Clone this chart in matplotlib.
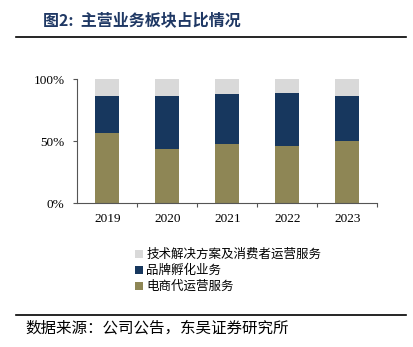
import matplotlib.pyplot as plt
import numpy as np

years = ["2019", "2020", "2021", "2022", "2023"]
ecommerce = [0.57, 0.44, 0.478, 0.462, 0.50]
brand_incubation = [0.295, 0.425, 0.402, 0.425, 0.37]
tech_service = [0.135, 0.135, 0.12, 0.113, 0.13]

series_names = ["电商代运营服务", "品牌孵化业务", "技术解决方案及消费者运营服务"]
colors = ["#8E8655", "#17375E", "#D9D9D9"]

CJK = ["Noto Sans CJK SC", "DejaVu Sans"]
SERIF = "Liberation Serif"


def main():
    fig = plt.figure(figsize=(4.13, 3.47), dpi=100)
    ax = fig.add_axes([0.187, 0.414, 0.7265, 0.357])

    x = np.arange(len(years))
    bottom = np.zeros(len(years))
    handles = []
    for vals, name, c in zip([ecommerce, brand_incubation, tech_service], series_names, colors):
        h = ax.bar(x, vals, width=0.4, bottom=bottom, color=c, label=name)
        bottom += np.array(vals)
        handles.append(h)

    ax.set_xlim(-0.5, len(years) - 0.5)
    ax.set_ylim(0, 1)
    ax.set_yticks([0, 0.5, 1.0])
    ax.set_yticklabels(["0%", "50%", "100%"], fontfamily=SERIF, fontsize=9.5)
    ax.set_xticks(x)
    ax.set_xticklabels(years, fontfamily=SERIF, fontsize=9.5)
    ax.tick_params(axis="x", which="major", length=0, pad=7)
    # tick marks sit between the categories
    ax.set_xticks(np.arange(0.5, len(years), 1.0), minor=True)
    ax.tick_params(axis="x", which="minor", length=3, color="#555555", width=0.8)
    ax.tick_params(axis="y", length=3, color="#555555", width=0.8, pad=6)
    for side in ["top", "right"]:
        ax.spines[side].set_visible(False)
    for side in ["left", "bottom"]:
        ax.spines[side].set_color("#555555")
        ax.spines[side].set_linewidth(0.8)

    fig.legend(handles[::-1], series_names[::-1], loc="upper left",
               bbox_to_anchor=(0.315, 1 - 243 / 347), frameon=False,
               prop={"family": CJK, "size": 9}, handlelength=0.6,
               handleheight=0.6, handletextpad=0.3, labelspacing=0.25,
               borderaxespad=0)

    fig.text(43 / 413, 1 - 20 / 347, "图2:  主营业务板块占比情况", fontfamily=CJK,
             fontsize=11.5, fontweight="bold", color="#1F3864", va="center")
    fig.add_artist(plt.Line2D([16 / 413, 406 / 413], [1 - 37 / 347, 1 - 37 / 347],
                              color="black", linewidth=1.2))
    fig.add_artist(plt.Line2D([16 / 413, 406 / 413], [1 - 315 / 347, 1 - 315 / 347],
                              color="black", linewidth=1.2))
    fig.text(25 / 413, 1 - 328 / 347, "数据来源：公司公告，东吴证券研究所", fontfamily=CJK,
             fontsize=11.2, color="black", va="center")

    fig.savefig("out.png", dpi=100)


if __name__ == "__main__":
    main()
